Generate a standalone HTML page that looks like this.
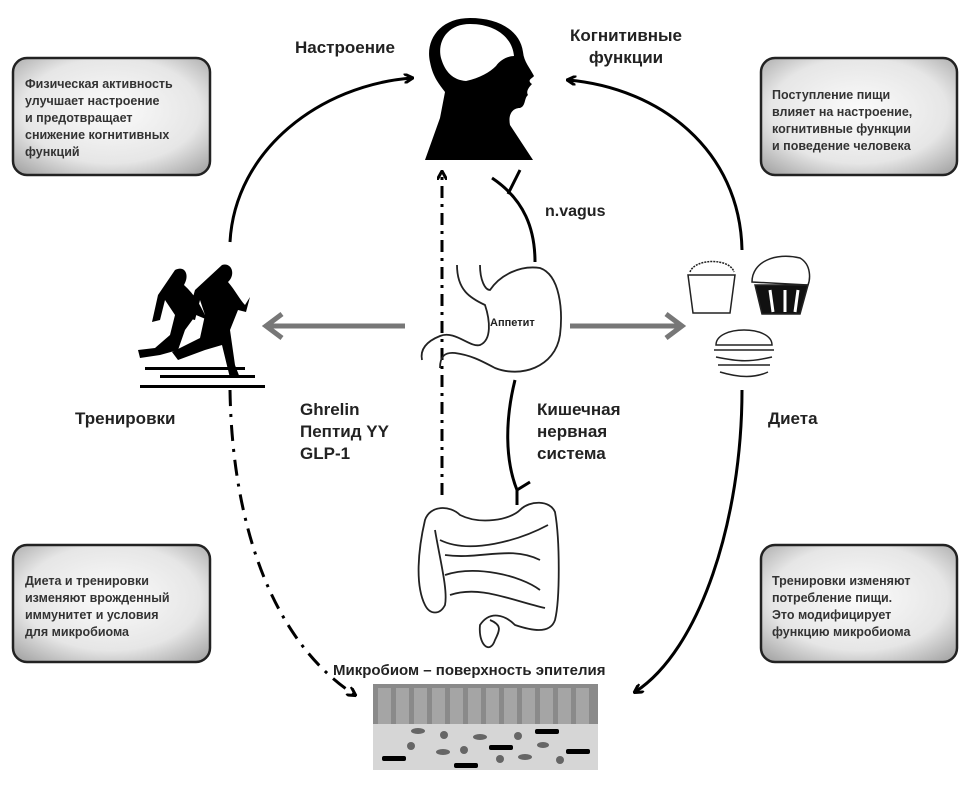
<!DOCTYPE html>
<html><head><meta charset="utf-8"><style>
html,body{margin:0;padding:0;background:#fff}
svg text{font-family:"Liberation Sans",sans-serif;font-weight:bold}
</style></head><body>
<svg width="966" height="788" viewBox="0 0 966 788" xmlns="http://www.w3.org/2000/svg">
<defs>
<radialGradient id="bg" cx="50%" cy="45%" r="75%"><stop offset="0" stop-color="#fbfbfb"/><stop offset="0.6" stop-color="#e6e6e6"/><stop offset="1" stop-color="#9a9a9a"/></radialGradient>
<marker id="ah" markerWidth="10" markerHeight="10" refX="8" refY="5" orient="auto" markerUnits="userSpaceOnUse"><path d="M0,0 L9,5 L0,10" fill="none" stroke="#000" stroke-width="3"/></marker>
</defs>

<!-- boxes -->
<g stroke="#222" stroke-width="2.5" fill="url(#bg)">
<rect x="13" y="58" width="197" height="117" rx="14"/>
<rect x="761" y="58" width="196" height="117" rx="14"/>
<rect x="13" y="545" width="197" height="117" rx="14"/>
<rect x="761" y="545" width="196" height="117" rx="14"/>
</g>
<g font-size="12.5" fill="#333">
<text x="25" y="88">Физическая активность</text>
<text x="25" y="105">улучшает настроение</text>
<text x="25" y="122">и предотвращает</text>
<text x="25" y="139">снижение когнитивных</text>
<text x="25" y="156">функций</text>
<text x="772" y="99">Поступление пищи</text>
<text x="772" y="116">влияет на настроение,</text>
<text x="772" y="133">когнитивные функции</text>
<text x="772" y="150">и поведение человека</text>
<text x="25" y="585">Диета и тренировки</text>
<text x="25" y="602">изменяют врожденный</text>
<text x="25" y="619">иммунитет и условия</text>
<text x="25" y="636">для микробиома</text>
<text x="772" y="585">Тренировки изменяют</text>
<text x="772" y="602">потребление пищи.</text>
<text x="772" y="619">Это модифицирует</text>
<text x="772" y="636">функцию микробиома</text>
</g>

<!-- labels -->
<g font-size="17" fill="#222">
<text x="295" y="53">Настроение</text>
<text x="626" y="41" text-anchor="middle">Когнитивные</text>
<text x="626" y="63" text-anchor="middle">функции</text>
<text x="75" y="424">Тренировки</text>
<text x="768" y="424">Диета</text>
<text x="300" y="415">Ghrelin</text>
<text x="300" y="437">Пептид YY</text>
<text x="300" y="459">GLP-1</text>
<text x="537" y="415">Кишечная</text>
<text x="537" y="437">нервная</text>
<text x="537" y="459">система</text>
<text x="545" y="216" font-size="16">n.vagus</text>
<text x="333" y="675" font-size="15">Микробиом  – поверхность эпителия</text>
</g>

<!-- curved arrows -->
<g fill="none" stroke="#000" stroke-width="3">
<path d="M230,242 C235,150 320,85 412,78" marker-end="url(#ah)"/>
<path d="M742,250 C740,150 660,88 568,80" marker-end="url(#ah)"/>
<path d="M742,390 C742,520 700,650 635,692" marker-end="url(#ah)"/>
<path d="M230,390 C232,520 270,640 355,695" stroke-dasharray="16,8,3,8" marker-end="url(#ah)"/>
<path d="M442,495 L442,172" stroke-dasharray="12,6,3,6" marker-end="url(#ah)"/>
<path d="M535,262 C535,230 525,200 492,178"/>
<path d="M508,194 L520,170"/>
<path d="M515,380 C505,420 505,460 517,490 M517,490 L530,482 M517,490 L517,505"/>
</g>
<!-- gray arrows -->
<g stroke="#777" stroke-width="5" fill="none">
<path d="M405,326 L268,326"/>
<path d="M282,314 L266,326 L282,338"/>
<path d="M570,326 L680,326"/>
<path d="M666,314 L682,326 L666,338"/>
</g>

<!-- head -->
<path d="M470,18 C440,18 425,40 430,62 C433,78 440,85 445,92 L440,118 L425,160 L533,160 L510,125 C508,115 512,108 520,108 C526,106 524,98 528,95 C526,92 528,88 532,84 C526,80 533,78 534,76 C530,68 524,62 523,52 C520,30 498,18 470,18Z" fill="#000"/>
<path d="M470,24 C447,24 437,42 441,58 C445,72 453,80 466,81 C480,78 490,72 496,66 C500,60 508,56 514,56 C512,36 494,24 470,24Z" fill="#fff"/>

<!-- stomach -->
<g fill="none" stroke="#222" stroke-width="1.8">
<path d="M457,265 C457,290 470,298 485,305 C490,320 492,340 480,345 C470,348 455,330 440,336 C425,342 420,350 422,360"/>
<path d="M480,265 C480,280 485,290 490,290 C500,275 520,265 540,268 C560,275 563,310 560,335 C555,368 520,378 495,368 C480,360 470,355 455,353 C445,352 440,356 440,368"/>
</g>
<text x="490" y="326" font-size="11" fill="#222">Аппетит</text>

<!-- intestine -->
<g fill="none" stroke="#222" stroke-width="1.8">
<path d="M425,520 C430,505 450,505 460,515 C480,525 510,520 520,510 C530,500 550,500 555,512 C560,540 560,600 555,620 C550,635 530,630 515,625 C505,615 490,610 480,625 C478,645 490,655 495,640 C500,630 502,625 490,620 M425,520 C418,550 415,585 425,605 C430,615 440,615 445,605 C448,590 440,560 435,530"/>
<path d="M440,540 C470,555 520,540 548,525 M445,555 C480,560 510,545 540,560 M445,575 C475,565 520,575 540,590 M450,595 C480,585 510,600 545,608"/>
</g>

<!-- epithelium -->
<rect x="373" y="684" width="225" height="86" fill="#d6d6d6"/>
<rect x="373" y="684" width="225" height="40" fill="#8a8a8a"/>
<g fill="#a5a5a5">
<rect x="378" y="688" width="13" height="36"/><rect x="396" y="688" width="13" height="36"/><rect x="414" y="688" width="13" height="36"/><rect x="432" y="688" width="13" height="36"/><rect x="450" y="688" width="13" height="36"/><rect x="468" y="688" width="13" height="36"/><rect x="486" y="688" width="13" height="36"/><rect x="504" y="688" width="13" height="36"/><rect x="522" y="688" width="13" height="36"/><rect x="540" y="688" width="13" height="36"/><rect x="558" y="688" width="13" height="36"/><rect x="576" y="688" width="13" height="36"/>
</g>
<g fill="#000">
<rect x="382" y="756" width="24" height="5" rx="2"/><rect x="454" y="763" width="24" height="5" rx="2"/><rect x="489" y="745" width="24" height="5" rx="2"/><rect x="535" y="729" width="24" height="5" rx="2"/><rect x="566" y="749" width="24" height="5" rx="2"/>
</g>
<g fill="#666">
<ellipse cx="418" cy="731" rx="7" ry="3"/><ellipse cx="443" cy="752" rx="7" ry="3"/><ellipse cx="480" cy="737" rx="7" ry="3"/><ellipse cx="525" cy="757" rx="7" ry="3"/><ellipse cx="543" cy="745" rx="6" ry="3"/>
<circle cx="444" cy="735" r="4"/><circle cx="411" cy="746" r="4"/><circle cx="464" cy="750" r="4"/><circle cx="518" cy="736" r="4"/><circle cx="500" cy="759" r="4"/><circle cx="560" cy="760" r="4"/>
</g>

<!-- runners -->
<g fill="#000">
<path d="M175,270 C185,265 190,275 184,285 C195,295 200,305 205,315 L215,310 L208,320 L196,315 L185,330 L178,350 L160,355 L140,358 L138,350 L155,348 L170,335 L175,315 L165,300 L160,320 L152,322 L158,295 Z"/>
<path d="M222,265 C232,262 236,275 228,282 C235,290 240,300 245,305 L250,297 L246,312 L238,310 L230,330 L235,365 L240,378 L230,378 L222,345 L205,350 L178,360 L172,352 L200,338 L205,315 L200,300 L195,320 L187,318 L195,290 Z"/>
<rect x="145" y="367" width="100" height="3"/><rect x="160" y="375" width="95" height="3"/><rect x="140" y="385" width="125" height="3"/>
</g>

<!-- food -->
<g fill="none" stroke="#222" stroke-width="1.5">
<path d="M688,275 L693,313 L730,313 L735,275 Z"/>
<path d="M690,272 C695,258 730,258 734,272" stroke-dasharray="2,1"/>
<path d="M752,282 C752,262 775,252 800,258 C812,265 810,280 808,285 Z" fill="#fff"/>
<path d="M755,285 L762,314 L800,314 L808,285 Z" fill="#111"/>
<path d="M770,290 L773,312 M785,290 L785,312 M798,290 L795,312" stroke="#fff" stroke-width="3"/>
<path d="M716,345 C716,325 772,325 772,345 Z"/>
<path d="M714,350 L774,350 M716,357 C740,362 750,362 772,357 M718,365 L770,365 M720,372 C740,378 755,378 768,372"/>
</g>
</svg>
</body></html>
